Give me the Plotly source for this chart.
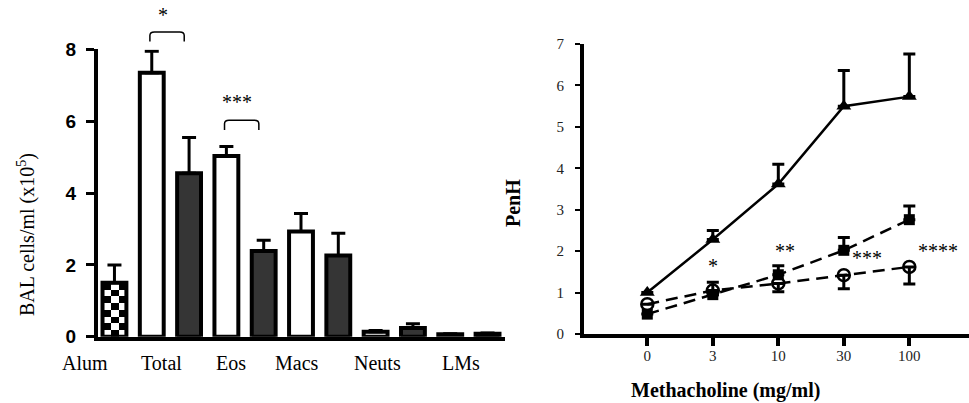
import plotly.graph_objects as go

# ---------------- data: left panel (BAL cells/ml, x10^5) ----------------
GROUP_LABELS = ["Alum", "Total", "Eos", "Macs", "Neuts", "LMs"]
ALUM_VALUE = [1.5]
ALUM_ERR = [0.5]
WHITE_VALUES = [7.35, 5.03, 2.93, 0.14, 0.07]   # Total, Eos, Macs, Neuts, LMs
WHITE_ERR = [0.6, 0.27, 0.5, 0.03, 0.01]
DARK_VALUES = [4.55, 2.39, 2.26, 0.24, 0.08]
DARK_ERR = [1.0, 0.3, 0.62, 0.12, 0.02]
LEFT_YTICKS = [0, 2, 4, 6, 8]
BRACKET_LABELS = ["*", "***"]
BRACKET_PAIR = [0, 1]          # index of the cell type (Total, Eos)
BRACKET_LEVEL = [8.49, 6.03]

# ---------------- data: right panel (PenH vs methacholine) ----------------
DOSES = ["0", "3", "10", "30", "100"]
TRI_VALUES = [1.0, 2.28, 3.62, 5.5, 5.73]
TRI_ERR = [0, 0.22, 0.48, 0.86, 1.03]
SQ_VALUES = [0.48, 0.95, 1.43, 2.02, 2.76]
SQ_ERR = [0, 0.3, 0.22, 0.31, 0.33]
CIR_VALUES = [0.72, 1.05, 1.22, 1.42, 1.62]
CIR_ERR = [0, 0.1, 0.2, 0.33, 0.41]
RIGHT_STARS = ["*", "**", "***", "****"]
RIGHT_YTICKS = [0, 1, 2, 3, 4, 5, 6, 7]

# ---------------- layout constants ----------------
SERIF = "Liberation Serif, Times New Roman, serif"
SANS = "Liberation Sans, Arial, sans-serif"
BAR_W = 0.64
DARK = "#353535"

L_XDOM = [0.1011, 0.5212]
L_XRNG = [-0.442, 10.469]
L_YDOM = [0.1645, 0.8772]
L_YRNG = [0, 8]
R_XDOM = [0.6027, 1.0]
R_XRNG = [-0.966, 4.911]
R_YDOM = [0.1712, 0.8908]
R_YRNG = [0, 7]


def xpaper(v, dom, rng):
    return dom[0] + (v - rng[0]) / (rng[1] - rng[0]) * (dom[1] - dom[0])


def ypaper(v, dom, rng):
    return dom[0] + (v - rng[0]) / (rng[1] - rng[0]) * (dom[1] - dom[0])


fig = go.Figure()

# --- checkered fill of the Alum bar (drawn under the bar outline)
ncol, nrow = 3, 8
cx = [-BAR_W / 2 + BAR_W * k / ncol for k in range(ncol + 1)]
cy = [ALUM_VALUE[0] * k / nrow for k in range(nrow + 1)]
cz = [[(r + c) % 2 for c in range(ncol)] for r in range(nrow)]
fig.add_trace(go.Heatmap(x=cx, y=cy, z=cz, zmin=0, zmax=1,
                         colorscale=[[0, "white"], [1, "black"]],
                         showscale=False, hoverinfo="skip",
                         xaxis="x", yaxis="y"))

err_style = dict(type="data", symmetric=False, color="black", thickness=3, width=7)

fig.add_trace(go.Bar(
    x=[0], y=ALUM_VALUE, width=BAR_W,
    marker=dict(color="rgba(0,0,0,0)", line=dict(color="black", width=4)),
    error_y=dict(array=ALUM_ERR, arrayminus=[0], **err_style),
    xaxis="x", yaxis="y", showlegend=False))

white_x = [1 + 2 * k for k in range(len(WHITE_VALUES))]
dark_x = [2 + 2 * k for k in range(len(DARK_VALUES))]
fig.add_trace(go.Bar(
    x=white_x, y=WHITE_VALUES, width=BAR_W,
    marker=dict(color="white", line=dict(color="black", width=4)),
    error_y=dict(array=WHITE_ERR, arrayminus=[0] * len(WHITE_ERR), **err_style),
    xaxis="x", yaxis="y", showlegend=False))
fig.add_trace(go.Bar(
    x=dark_x, y=DARK_VALUES, width=BAR_W,
    marker=dict(color=DARK, line=dict(color="black", width=4)),
    error_y=dict(array=DARK_ERR, arrayminus=[0] * len(DARK_ERR), **err_style),
    xaxis="x", yaxis="y", showlegend=False))

# --- right panel lines
xi = list(range(len(DOSES)))
perr = dict(type="data", symmetric=False, color="black", thickness=3, width=6)
fig.add_trace(go.Scatter(
    x=xi, y=CIR_VALUES, mode="lines+markers",
    line=dict(color="black", width=2.5, dash="12px,7px"),
    marker=dict(symbol="circle-open", size=12, color="black", line=dict(width=2.5)),
    error_y=dict(array=[0] * len(CIR_ERR), arrayminus=CIR_ERR, **perr),
    xaxis="x2", yaxis="y2", showlegend=False))
fig.add_trace(go.Scatter(
    x=xi, y=SQ_VALUES, mode="lines+markers",
    line=dict(color="black", width=2.5, dash="12px,7px"),
    marker=dict(symbol="square", size=11, color="black"),
    error_y=dict(array=SQ_ERR, arrayminus=[0] * len(SQ_ERR), **perr),
    xaxis="x2", yaxis="y2", showlegend=False))
fig.add_trace(go.Scatter(
    x=xi, y=TRI_VALUES, mode="lines+markers",
    line=dict(color="black", width=2.5),
    marker=dict(symbol="triangle-up", size=13, color="black"),
    error_y=dict(array=TRI_ERR, arrayminus=[0] * len(TRI_ERR), **perr),
    xaxis="x2", yaxis="y2", showlegend=False))

shapes = []
annotations = []
# brackets with significance stars (left panel)
for lab, pair, lvl, dy in zip(BRACKET_LABELS, BRACKET_PAIR, BRACKET_LEVEL, [0.46, 0.5]):
    i = 1 + 2 * pair
    x0, x1 = i - 0.05, i + 0.87
    yb = ypaper(lvl - 0.27, L_YDOM, L_YRNG)
    yt = ypaper(lvl, L_YDOM, L_YRNG)
    yc = ypaper(lvl - 0.1, L_YDOM, L_YRNG)
    r = 0.12
    path = (f"M {x0},{yb} L {x0},{yc} Q {x0},{yt} {x0 + r},{yt} "
            f"L {x1 - r},{yt} Q {x1},{yt} {x1},{yc} L {x1},{yb}")
    shapes.append(dict(type="path", xref="x", yref="paper", path=path,
                       line=dict(color="black", width=1.5)))
    annotations.append(dict(x=(x0 + x1) / 2 - 0.12, y=ypaper(lvl + dy, L_YDOM, L_YRNG),
                            xref="x", yref="paper", text=lab, showarrow=False,
                            xanchor="center", yanchor="middle",
                            font=dict(family=SERIF, size=20, color="black")))

# category labels under the left axis
LABEL_X = [-0.79, 1.27, 3.12, 4.89, 7.04, 9.29]
for lab, lx in zip(GROUP_LABELS, LABEL_X):
    annotations.append(dict(x=xpaper(lx, L_XDOM, L_XRNG), y=0.0993, xref="paper", yref="paper",
                            text=lab, showarrow=False, xanchor="center", yanchor="middle",
                            font=dict(family=SERIF, size=20, color="black")))

# right panel stars
STAR_X = [1.0, 2.1, 3.35, 4.44]
STAR_Y = [1.64, 2.0, 1.84, 2.0]
for lab, sx, sy in zip(RIGHT_STARS, STAR_X, STAR_Y):
    annotations.append(dict(x=sx, y=sy, xref="x2", yref="y2", text=lab, showarrow=False,
                            xanchor="center", yanchor="middle",
                            font=dict(family=SERIF, size=20, color="black")))

# axis titles
annotations.append(dict(x=0.0279, y=0.4169, xref="paper", yref="paper",
                        text="BAL cells/ml (x10<sup>5</sup>)", textangle=-90, showarrow=False,
                        xanchor="center", yanchor="middle",
                        font=dict(family=SERIF, size=20, color="black")))
annotations.append(dict(x=0.5294, y=0.4963, xref="paper", yref="paper",
                        text="<b>PenH</b>", textangle=-90, showarrow=False,
                        xanchor="center", yanchor="middle",
                        font=dict(family=SERIF, size=20, color="black")))
annotations.append(dict(x=0.7482, y=0.0298, xref="paper", yref="paper",
                        text="<b>Methacholine (mg/ml)</b>", showarrow=False,
                        xanchor="center", yanchor="middle",
                        font=dict(family=SERIF, size=20, color="black")))

fig.update_layout(
    template="none",
    width=969, height=403,
    margin=dict(l=0, r=0, t=0, b=0, pad=0),
    paper_bgcolor="white", plot_bgcolor="white",
    barmode="overlay", showlegend=False,
    shapes=shapes, annotations=annotations,
    xaxis=dict(domain=L_XDOM, range=L_XRNG, anchor="y", showline=True, linewidth=4,
               linecolor="black", showticklabels=False, ticks="", showgrid=False,
               zeroline=False, automargin=False),
    yaxis=dict(domain=L_YDOM, range=L_YRNG, anchor="x", showline=True, linewidth=4,
               linecolor="black",
               tickvals=LEFT_YTICKS, ticks="outside", ticklen=8, tickwidth=3,
               tickcolor="black", ticklabelstandoff=6,
               tickfont=dict(family=SANS, size=19, color="black", weight="bold"),
               showgrid=False, zeroline=False, automargin=False),
    xaxis2=dict(domain=R_XDOM, range=R_XRNG, anchor="y2", showline=True, linewidth=4,
                linecolor="black", tickvals=xi, ticktext=DOSES, ticks="outside",
                ticklen=8, tickwidth=4, tickcolor="black", ticklabelstandoff=-3,
                tickfont=dict(family=SERIF, size=15, color="#222"),
                showgrid=False, zeroline=False, automargin=False),
    yaxis2=dict(domain=R_YDOM, range=R_YRNG, anchor="x2", showline=True, linewidth=4,
                linecolor="black", tickvals=RIGHT_YTICKS, ticks="outside", ticklen=5,
                tickwidth=2, tickcolor="black", ticklabelstandoff=8,
                tickfont=dict(family=SERIF, size=15, color="#222"),
                showgrid=False, zeroline=False, automargin=False),
)

fig.write_html("out.html")
